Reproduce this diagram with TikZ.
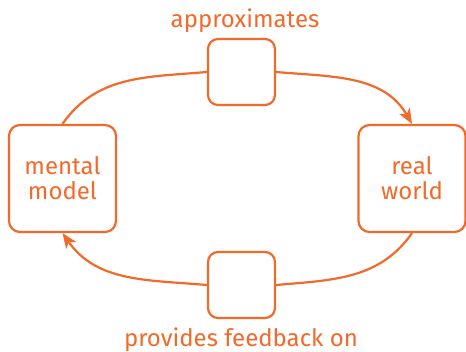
\documentclass[tikz,border=0pt]{standalone}
\usepackage{fontspec}
\setmainfont{Fira Sans}
\usetikzlibrary{arrows.meta}
\definecolor{orng}{HTML}{F26A2A}
\tikzset{
	bigbox/.style={draw=orng, line width=2.2pt, rounded corners=11pt, minimum width=107pt, minimum height=107pt, align=center, text=orng, inner sep=0pt},
	smallbox/.style={draw=orng, line width=2.2pt, rounded corners=10pt, minimum width=67pt, minimum height=66pt, inner sep=0pt},
	lbl/.style={text=orng, anchor=base, inner sep=0pt},
	link/.style={draw=orng, line width=2.2pt},
	tip/.style={-{Stealth[length=15pt, width=12pt, inset=4pt]}}
}
\begin{document}
\begin{tikzpicture}[x=1pt, y=-1pt, font=\fontsize{24}{25}\selectfont]

	\useasboundingbox (0,0) rectangle (466,351);

	%Kaesten
	\node [bigbox] (mental) at (62.5, 178.5) {mental\\model};
	\node [bigbox] (world) at (412, 178.5) {real\\world};
	\node [smallbox] (approx) at (241.5, 72) {};
	\node [smallbox] (feedback) at (241.5, 285) {};

	%Beschriftung
	\node [lbl] (approxlbl) at (245, 27) {approximates};
	\node [lbl] (feedbacklbl) at (241, 346) {provides feedback on};

	%Pfeile
	\draw [link] (mental.north) to [out=55, in=185] (approx.west);
	\draw [link, tip] (approx.east) to [out=-5, in=120] (world.north);
	\draw [link] (world.south) to [out=-125, in=5] (feedback.east);
	\draw [link, tip] (feedback.west) to [out=175, in=-55] (mental.south);

\end{tikzpicture}
\end{document}
